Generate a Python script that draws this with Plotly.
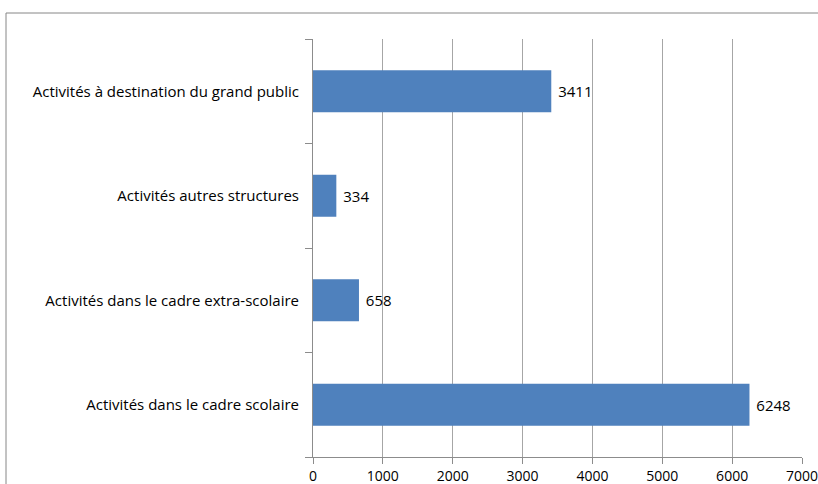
import plotly.graph_objects as go

categories = [
    "Activités dans le cadre scolaire",
    "Activités dans le cadre extra-scolaire",
    "Activités autres structures",
    "Activités à destination du grand public",
]
values = [6248, 658, 334, 3411]
x_ticks = [0, 1000, 2000, 3000, 4000, 5000, 6000, 7000]

FONT = "Open Sans, Lato, sans-serif"
W, H = 818, 484
ml, mr, mt, mb = 313, 16, 39, 27
pw, ph = W - ml - mr, H - mt - mb

fig = go.Figure(go.Bar(
    y=categories, x=values, orientation="h",
    marker=dict(color="#4F81BD", line=dict(width=0)),
    width=0.4,
    text=[" " + str(v) for v in values], textposition="outside",
    textfont=dict(family=FONT, size=15, color="#000000"),
    cliponaxis=False,
))

fig.update_layout(
    width=W, height=H,
    margin=dict(l=ml, r=mr, t=mt, b=mb, autoexpand=False),
    paper_bgcolor="white", plot_bgcolor="white",
    showlegend=False,
    font=dict(family=FONT, size=15, color="#000000"),
    xaxis=dict(
        range=[0, 7000], tickvals=x_ticks, ticktext=[str(t) for t in x_ticks],
        tickfont=dict(family=FONT, size=14, color="#000000"),
        showgrid=True, gridcolor="#A6A6A6", gridwidth=1,
        showline=True, linecolor="#8C8C8C", linewidth=1,
        ticks="outside", ticklen=6, tickcolor="#8C8C8C",
        ticklabelstandoff=0, ticklabeloverflow="allow",
        zeroline=False, fixedrange=True,
    ),
    yaxis=dict(
        type="category", range=[-0.5, 3.5],
        showgrid=False, showline=True, linecolor="#8C8C8C", linewidth=1,
        ticks="outside", ticklen=7, tickcolor="#8C8C8C", tickson="boundaries",
        ticklabelstandoff=10, zeroline=False, fixedrange=True,
    ),
    shapes=[dict(
        type="rect", xref="paper", yref="paper",
        x0=(6 - ml) / pw, x1=(W + 20 - ml) / pw,
        y0=-(mb + 20) / ph, y1=1 + (mt - 13) / ph,
        line=dict(color="#868686", width=1), fillcolor="rgba(0,0,0,0)", layer="below",
    )],
)

fig.write_html(
    "out.html",
    config={"displayModeBar": False},
    post_script="document.body.style.margin='0';document.body.style.overflow='hidden';",
)
